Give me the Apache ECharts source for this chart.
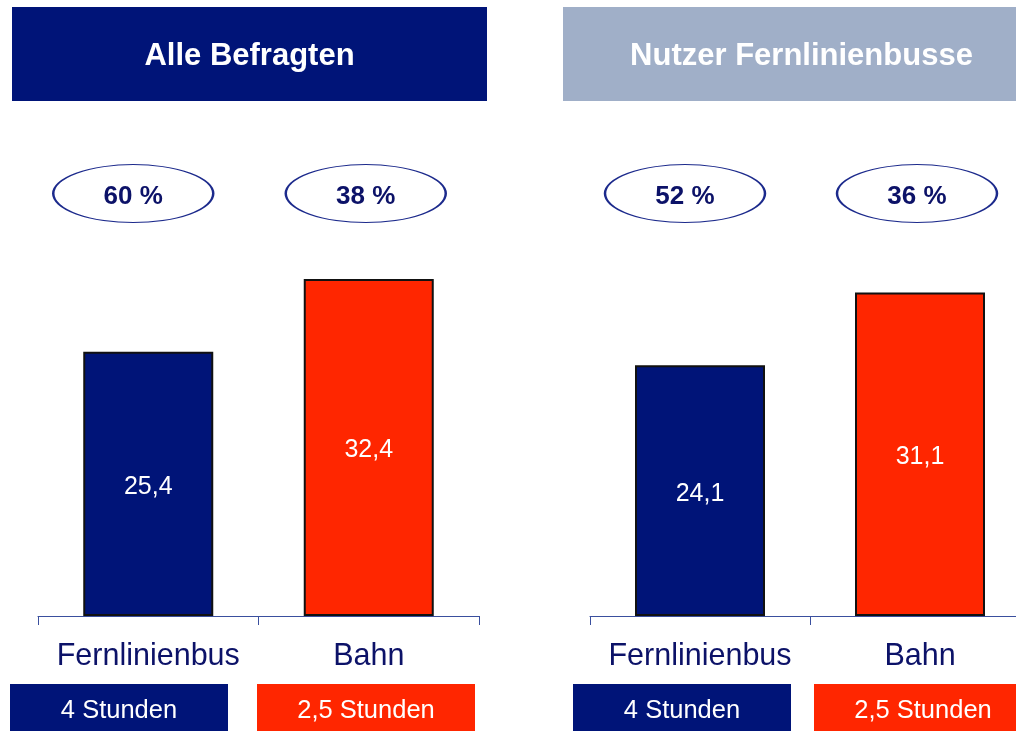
<!DOCTYPE html>
<html>
<head>
<meta charset="utf-8">
<script src="https://cdn.jsdelivr.net/npm/echarts@6/dist/echarts.min.js"></script>
<style>
  html, body { margin: 0; padding: 0; background: #fff; }
  #chart { width: 1016px; height: 731px; }
</style>
</head>
<body>
<div id="chart"></div>
<script>
// data
var panels = ['Alle Befragten', 'Nutzer Fernlinienbusse'];
var categories = ['Fernlinienbus', 'Bahn'];
var valuesAll = [25.4, 32.4];
var valuesNutzer = [24.1, 31.1];
var sharesAll = [60, 38];
var sharesNutzer = [52, 36];
var durations = ['4 Stunden', '2,5 Stunden'];

var NAVY = '#001478';
var RED = '#ff2600';
var GREY = '#a0afc8';
var TEXT_NAVY = '#0c1268';
var FONT = '"Liberation Sans", Arial, sans-serif';
var barColors = [NAVY, RED];
var ellipseLevel = 40.6;   // height of the percentage ellipses on the value axis
var ellipseShift = [-15, -3];

var myChart = echarts.init(document.getElementById('chart'));

function comma(v) {
    return v.toFixed(1).replace('.', ',');
}

function barSeries(idx, values) {
    return {
        type: 'bar',
        xAxisIndex: idx,
        yAxisIndex: idx,
        barWidth: 130,
        data: values.map(function (v, i) {
            return { value: v, itemStyle: { color: barColors[i] } };
        }),
        itemStyle: { borderColor: '#111', borderWidth: 2 },
        label: {
            show: true,
            position: 'inside',
            offset: [0, 3],
            color: '#fff',
            fontSize: 25,
            fontFamily: FONT,
            formatter: function (p) { return comma(p.value); }
        },
        silent: true
    };
}

function shareSeries(idx, shares) {
    return {
        type: 'scatter',
        xAxisIndex: idx,
        yAxisIndex: idx,
        clip: false,
        symbol: 'circle',
        symbolSize: [160, 58],
        data: shares.map(function (s, i) {
            return { value: [categories[i], ellipseLevel], share: s, symbolOffset: [ellipseShift[i], 0] };
        }),
        itemStyle: { color: '#fff', borderColor: '#1c2a8c', borderWidth: 1.5, opacity: 1 },
        label: {
            show: true,
            position: 'inside',
            offset: [0, 3],
            color: TEXT_NAVY,
            fontSize: 26,
            fontWeight: 'bold',
            fontFamily: FONT,
            formatter: function (p) { return p.data.share + ' %'; }
        },
        silent: true
    };
}

function xAxisFor(idx) {
    return {
        type: 'category',
        gridIndex: idx,
        data: categories,
        axisLine: { show: true, lineStyle: { color: '#3a4f9e', width: 1 } },
        axisTick: { show: true, length: 9, lineStyle: { color: '#3a4f9e' } },
        axisLabel: { show: true, interval: 0, color: TEXT_NAVY, fontSize: 30.5, fontFamily: FONT, margin: 25 }
    };
}

function yAxisFor(idx) {
    return {
        type: 'value',
        gridIndex: idx,
        min: 0,
        max: 42,
        show: false,
        splitLine: { show: false }
    };
}

function header(x, w, text, color) {
    return {
        type: 'group',
        children: [
            { type: 'rect', shape: { x: x, y: 7, width: w, height: 94 }, style: { fill: color } },
            { type: 'text', x: x + w / 2, y: 56, style: { text: text, fill: '#fff', font: 'bold 31px ' + FONT, align: 'center', verticalAlign: 'middle' } }
        ]
    };
}

function footer(x, w, text, color) {
    return {
        type: 'group',
        children: [
            { type: 'rect', shape: { x: x, y: 684, width: w, height: 47 }, style: { fill: color } },
            { type: 'text', x: x + w / 2, y: 711, style: { text: text, fill: '#fff', font: '25.5px ' + FONT, align: 'center', verticalAlign: 'middle' } }
        ]
    };
}

option = {
    animation: false,
    backgroundColor: '#fff',
    grid: [
        { left: 38, width: 441, top: 179, height: 437, outerBoundsMode: 'none' },
        { left: 590, width: 440, top: 179, height: 437, outerBoundsMode: 'none' }
    ],
    xAxis: [xAxisFor(0), xAxisFor(1)],
    yAxis: [yAxisFor(0), yAxisFor(1)],
    series: [
        barSeries(0, valuesAll),
        barSeries(1, valuesNutzer),
        shareSeries(0, sharesAll),
        shareSeries(1, sharesNutzer)
    ],
    graphic: [
        header(12, 475, panels[0], NAVY),
        header(563, 477, panels[1], GREY),
        footer(10, 218, durations[0], NAVY),
        footer(257, 218, durations[1], RED),
        footer(573, 218, durations[0], NAVY),
        footer(814, 218, durations[1], RED)
    ]
};

myChart.setOption(option);
</script>
</body>
</html>
